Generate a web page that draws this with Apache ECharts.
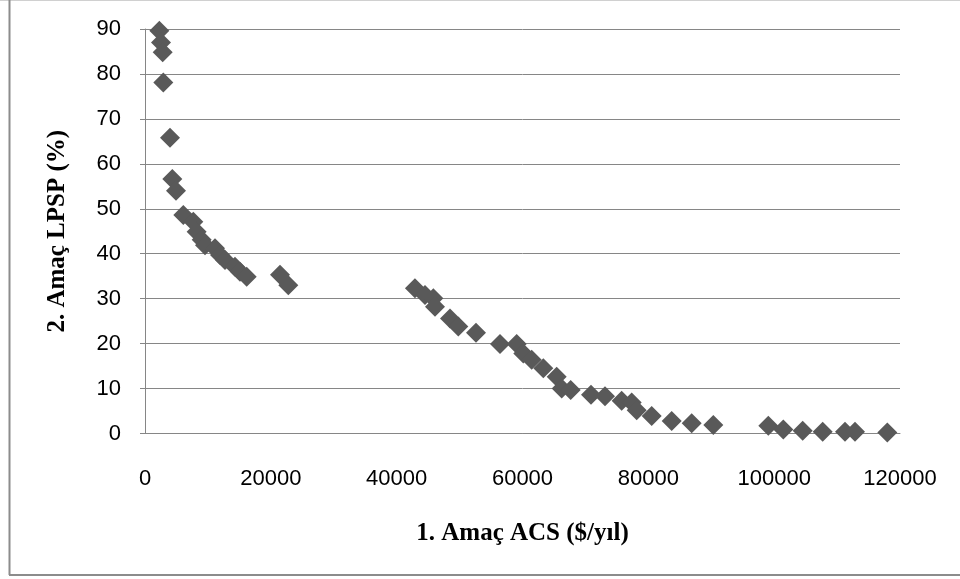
<!DOCTYPE html>
<html>
<head>
<meta charset="utf-8">
<title>Amaç ACS - LPSP</title>
<script src="https://cdn.jsdelivr.net/npm/echarts@6/dist/echarts.min.js"></script>
<style>
  html, body { margin: 0; padding: 0; background: #fff; }
  #chart { width: 960px; height: 579px; }
</style>
</head>
<body>
<div id="chart"></div>
<script>
// 1. Amaç ACS ($/yıl)
var acsValues = [
  2280, 2540, 2810, 2910, 3970, 4340, 4930,
  6090, 7680, 8210, 9010, 9540, 11130, 11920, 12715, 14300, 15100, 16160,
  21460, 22780,
  42900, 44500, 45830, 46090, 48480, 49800, 52610, 56420, 59080, 60130,
  61460, 63310, 65430, 66230, 67660, 70890, 73110, 75760, 77350, 78150,
  80530, 83710, 86890, 90330, 99070, 101450, 104530, 107710, 111260,
  112850, 117980
];
// 2. Amaç LPSP (%)
var lpspValues = [
  89.6, 87.0, 84.8, 78.1, 65.8, 56.6, 54.0,
  48.6, 47.1, 44.9, 43.1, 41.9, 41.2, 39.7, 38.6, 37.1, 36.0, 34.9,
  35.3, 33.0,
  32.3, 30.8, 30.1, 28.2, 25.6, 23.8, 22.4, 19.9, 19.9, 17.8,
  16.4, 14.5, 12.6, 10.0, 9.7, 8.6, 8.3, 7.3, 6.9, 5.2,
  3.9, 2.8, 2.3, 1.9, 1.7, 0.9, 0.6, 0.4, 0.4,
  0.4, 0.2
];
var xTicks = { min: 0, max: 120000, step: 20000 };
var yTicks = { min: 0, max: 90, step: 10 };

function buildPoints() {
  var pts = [];
  for (var i = 0; i < acsValues.length; i++) {
    pts.push([acsValues[i], lpspValues[i]]);
  }
  return pts;
}

var myChart = echarts.init(document.getElementById('chart'));
var option = {
  animation: false,
  backgroundColor: '#ffffff',
  grid: { left: 145, right: 60, top: 29, bottom: 145.5 },
  graphic: [
    { type: 'line', shape: { x1: 0, y1: 0.5, x2: 960, y2: 0.5 }, style: { stroke: '#d0d0d0', lineWidth: 1 } },
    { type: 'line', shape: { x1: 9.5, y1: 0, x2: 9.5, y2: 575 }, style: { stroke: '#8c8c8c', lineWidth: 2 } },
    { type: 'line', shape: { x1: 9, y1: 575, x2: 960, y2: 575 }, style: { stroke: '#8c8c8c', lineWidth: 2 } }
  ],
  xAxis: {
    type: 'value',
    min: xTicks.min,
    max: xTicks.max,
    interval: xTicks.step,
    name: '1. Amaç ACS ($/yıl)',
    nameLocation: 'middle',
    nameGap: 88,
    nameTextStyle: { fontFamily: 'Liberation Serif', fontWeight: 'bold', fontSize: 25, color: '#000' },
    axisLine: { show: true, lineStyle: { color: '#868686', width: 1 } },
    axisTick: { show: false },
    splitLine: { show: false },
    axisLabel: {
      margin: 34, fontFamily: 'Liberation Sans', fontSize: 22, color: '#000',
      formatter: function (v) { return String(v); }
    }
  },
  yAxis: {
    type: 'value',
    min: yTicks.min,
    max: yTicks.max,
    interval: yTicks.step,
    name: '2. Amaç LPSP (%)',
    nameLocation: 'middle',
    nameGap: 75,
    nameTextStyle: { fontFamily: 'Liberation Serif', fontWeight: 'bold', fontSize: 25, color: '#000' },
    axisLine: { show: true, lineStyle: { color: '#868686', width: 1 } },
    axisTick: { show: true, length: 5, lineStyle: { color: '#868686' } },
    splitLine: { show: true, lineStyle: { color: '#868686', width: 1 } },
    axisLabel: { margin: 24, fontFamily: 'Liberation Sans', fontSize: 22, color: '#000' }
  },
  series: [
    {
      type: 'scatter',
      symbol: 'diamond',
      symbolSize: 20,
      itemStyle: { color: '#595959', opacity: 1 },
      data: buildPoints()
    }
  ]
};
myChart.setOption(option);
</script>
</body>
</html>
